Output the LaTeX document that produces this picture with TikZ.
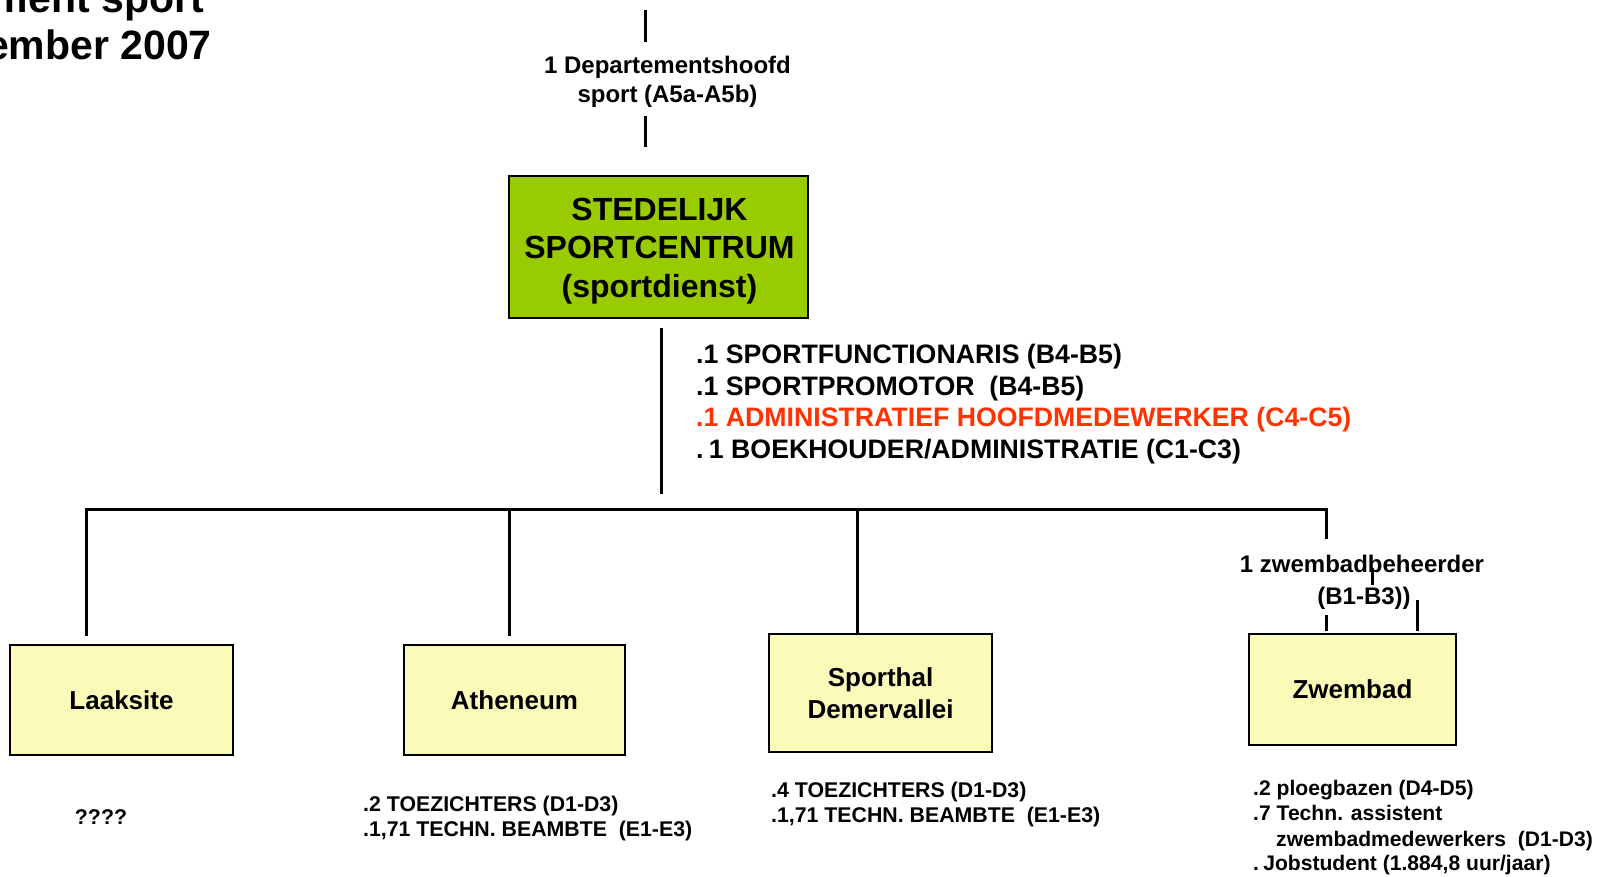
\documentclass[tikz,border=0pt]{standalone}
\usepackage{fontspec}
\setmainfont{Liberation Sans}
\definecolor{sgreen}{RGB}{153,204,0}
\definecolor{syellow}{RGB}{250,250,185}
\definecolor{sred}{RGB}{255,51,0}
\begin{document}
\begin{tikzpicture}[x=1pt,y=-1pt,
  conn/.style={line width=3pt},
  greenbox/.style={draw=black, line width=2.5pt, fill=sgreen, inner sep=0pt, align=center,
    font=\fontsize{32}{38.5}\selectfont\bfseries},
  ybox/.style={draw=black, line width=2.5pt, fill=syellow, inner sep=0pt, align=center,
    font=\fontsize{26}{32}\selectfont\bfseries},
  lbl/.style={inner sep=0pt, anchor=base, font=\fontsize{24}{28}\selectfont\bfseries},
  role/.style={inner sep=0pt, anchor=base west, font=\fontsize{26.7}{31}\selectfont\bfseries},
  staff/.style={inner sep=0pt, anchor=base west, font=\fontsize{21.3}{25}\selectfont\bfseries},
  zstaff/.style={inner sep=0pt, anchor=base west, font=\fontsize{21.1}{25}\selectfont\bfseries},
  titletext/.style={inner sep=0pt, anchor=base east, font=\fontsize{41}{47}\selectfont\bfseries}]
\useasboundingbox (0,0) rectangle (1600,876);
\fill[white] (0,0) rectangle (1600,876);

% title (cut off at the page edge, as in the original)
\begin{scope}
\clip (0,0) rectangle (1600,876);
\node[titletext] (t1) at (204,12) {ment sport};
\node[titletext] (t2) at (212,59) {ember 2007};
\end{scope}

% top connector and label
\coordinate (top0) at (645.7,10);
\coordinate (top1) at (645.7,42);
\coordinate (top2) at (645.7,116);
\coordinate (top3) at (645.7,147);
\draw[conn] (top0) -- (top1);
\node[lbl] (dh1) at (667.5,73) {1 Departementshoofd};
\node[lbl] (dh2) at (667.5,102) {sport (A5a-A5b)};
\draw[conn] (top2) -- (top3);

% main box
\node[greenbox, minimum width=299pt, minimum height=142pt] (sc) at (658.5,247) {};
\node[inner sep=0pt, align=center, font=\fontsize{32}{38.5}\selectfont\bfseries] (sct) at (659.5,251)
  {STEDELIJK\\SPORTCENTRUM\\(sportdienst)};

% line below main box
\coordinate (m0) at (661,328);
\coordinate (m1) at (661,494);
\draw[conn] (m0) -- (m1);

% roles
\node[role] (r1) at (696,363) {.1 SPORTFUNCTIONARIS (B4-B5)};
\node[role] (r2) at (696,395) {.1 SPORTPROMOTOR \ (B4-B5)};
\node[role, text=sred] (r3) at (696,426) {.1 ADMINISTRATIEF HOOFDMEDEWERKER (C4-C5)};
\node[role] (r4) at (696,458) {.\hspace{0.2em}1 BOEKHOUDER/ADMINISTRATIE (C1-C3)};

% horizontal bar
\coordinate (b0) at (86,509);
\coordinate (b1) at (509,509);
\coordinate (b2) at (857,509);
\coordinate (b3) at (1326,509);
\draw[conn, line cap=rect] (b0) -- (b3);

% boxes
\node[ybox, minimum width=223pt, minimum height=110pt] (laak) at (121.5,700) {Laaksite};
\node[ybox, minimum width=221pt, minimum height=110pt] (athe) at (514.5,700) {Atheneum};
\node[ybox, minimum width=223pt, minimum height=118pt] (spor) at (880.5,693) {Sporthal\\Demervallei};
\node[ybox, minimum width=207pt, minimum height=111pt] (zwem) at (1352.5,689.5) {Zwembad};

% drops
\coordinate (d0) at (86,636);
\coordinate (d1) at (509,636);
\draw[conn] (b0) -- (d0);
\draw[conn] (b1) -- (d1);
\draw[conn] (b2) -- (spor.north -| b2);
\coordinate (z0) at (1326,539);
\draw[conn] (b3) -- (z0);

% zwembad label and short lines
\node[lbl] (zb1) at (1362,572) {1 zwembadbeheerder};
\node[lbl] (zb2) at (1364,604) {(B1-B3))};
\coordinate (s0) at (1372,568);
\coordinate (s1) at (1372,585);
\draw[conn] (s0) -- (s1);
\coordinate (s2) at (1326,615);
\coordinate (s3) at (1326,631);
\draw[conn] (s2) -- (s3);
\coordinate (s4) at (1417,600);
\coordinate (s5) at (1417,631);
\draw[conn] (s4) -- (s5);

% staff texts
\node[staff, anchor=base] (lq) at (101,824) {????};

\node[staff] (a1) at (363,811) {.2 TOEZICHTERS (D1-D3)};
\node[staff] (a2) at (363,836) {.1,71 TECHN. BEAMBTE \ (E1-E3)};

\node[staff] (p1) at (771,797) {.4 TOEZICHTERS (D1-D3)};
\node[staff] (p2) at (771,822) {.1,71 TECHN. BEAMBTE \ (E1-E3)};

\node[zstaff] (w1) at (1253,795) {.2 ploegbazen (D4-D5)};
\node[zstaff] (w2) at (1253,820) {.7 Techn. assistent};
\node[zstaff] (w3) at (1276,846) {zwembadmedewerkers \ (D1-D3)};
\node[zstaff] (w4) at (1253,870) {.\hspace{0.2em}Jobstudent (1.884,8 uur/jaar)};
\end{tikzpicture}
\end{document}
